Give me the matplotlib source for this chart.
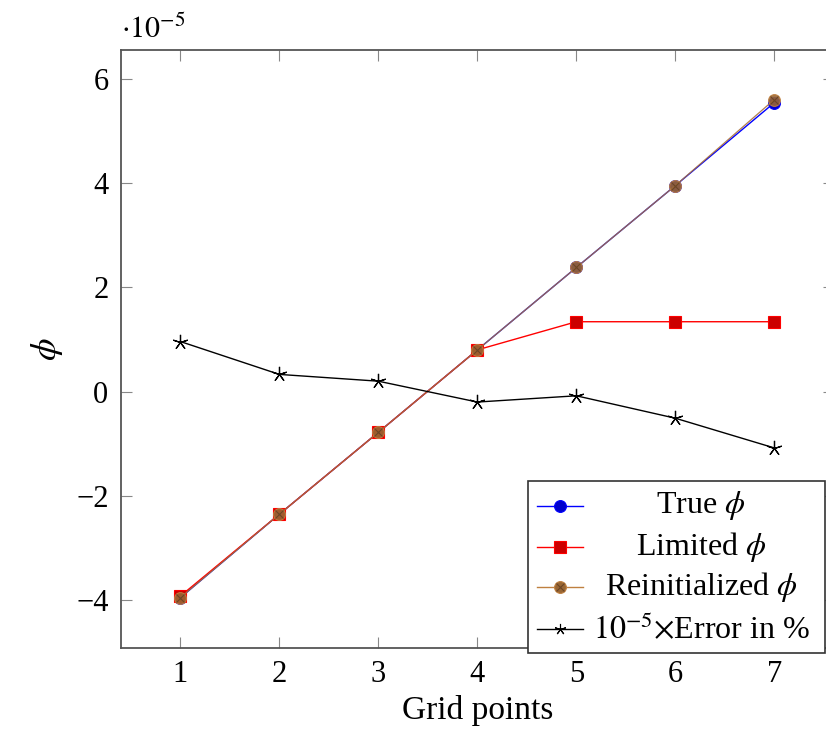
import matplotlib
matplotlib.use('Agg')
from matplotlib import pyplot as plt
from matplotlib.lines import Line2D
from matplotlib.patches import Rectangle

plt.rcParams['font.family'] = ['Liberation Serif', 'DejaVu Serif']
plt.rcParams['mathtext.fontset'] = 'stix'

# values in units of 1e-5
grid = [1, 2, 3, 4, 5, 6, 7]
phi_true = [-3.95, -2.35, -0.78, 0.80, 2.38, 3.95, 5.54]
phi_limited = [-3.92, -2.35, -0.78, 0.80, 1.34, 1.34, 1.34]
phi_reinit = [-3.95, -2.35, -0.78, 0.80, 2.38, 3.95, 5.60]
error_pct = [0.96, 0.33, 0.20, -0.20, -0.08, -0.51, -1.08]

labels = [r'True $\phi$', r'Limited $\phi$', r'Reinitialized $\phi$',
          r'$10^{-5}$$\times$Error in %']

W, H = 826, 729
fig = plt.figure(figsize=(W / 100, H / 100), dpi=100)
ax = fig.add_axes([121 / W, 1 - 647.7 / H, (833.7 - 121) / W, (647.7 - 50) / H])

lw = 1.0
ax.plot(grid, phi_true, color='#0000ff', lw=lw, marker='o', ms=8.5,
        mfc='#0000cc', mec='#0000ff', mew=0.8)
ax.plot(grid, phi_limited, color='#ff0000', lw=lw, marker='s', ms=8.5,
        mfc='#cc0000', mec='#ff0000', mew=0.8)
ax.plot(grid, phi_reinit, color='#a8703a', lw=0.9, marker='o', ms=8.5,
        mfc='#996633', mec='#bf8040', mew=0.8, alpha=0.9)
# cross inside the circles (otimes mark)
ax.plot(grid, phi_reinit, ls='none', marker='x', ms=5.5, mec='#6b4526', mew=0.8)
ax.plot(grid, error_pct, color='black', lw=lw, marker=(5, 2, 0), ms=11, mew=0.9)

ax.set_xlim(0.4, 7.6)
ax.set_ylim(-4.91, 6.55)
ax.set_xticks(grid)
ax.set_yticks([-4, -2, 0, 2, 4, 6])
ax.set_yticklabels(['\u22124', '\u22122', '0', '2', '4', '6'])

for s in ax.spines.values():
    s.set_color('#555555')
    s.set_linewidth(1.3)
ax.tick_params(direction='in', length=8, width=0.8, color='#888888',
               top=True, right=True, labelsize=22, pad=9)

ax.set_xlabel('Grid points', fontsize=24, labelpad=4)
ax.set_ylabel(r'$\phi$', fontsize=26, labelpad=8)
ax.text(0, 1.01, r'$\cdot10^{-5}$', transform=ax.transAxes, fontsize=21.5,
        ha='left', va='bottom')

# legend box, laid out in pixels
def px(x, y):
    return x / W, 1 - y / H

x0, y0 = px(528, 653)
x1, y1 = px(825, 481)
fig.add_artist(Rectangle((x0, y0), x1 - x0, y1 - y0, transform=fig.transFigure,
                         facecolor='white', edgecolor='#333333', lw=1.2, zorder=5))
rows = [506, 547, 587, 629]
styles = [
    dict(color='#0000ff', marker='o', ms=8.5, mfc='#0000cc', mec='#0000ff'),
    dict(color='#ff0000', marker='s', ms=8.5, mfc='#cc0000', mec='#ff0000'),
    dict(color='#bf8040', marker='o', ms=8.5, mfc='#996633', mec='#bf8040'),
    dict(color='black', marker=(5, 2, 0), ms=8, mfc='black', mec='black'),
]
for yrow, st, lab in zip(rows, styles, labels):
    xa, ya = px(537, yrow)
    xb, _ = px(583, yrow)
    xm, _ = px(560, yrow)
    fig.add_artist(Line2D([xa, xb], [ya, ya], transform=fig.transFigure,
                          color=st['color'], lw=lw, zorder=6))
    fig.add_artist(Line2D([xm], [ya], transform=fig.transFigure, ls='none',
                          marker=st['marker'], ms=st['ms'], mfc=st['mfc'],
                          mec=st['mec'], mew=0.8, zorder=7))
    xt, _ = px(701, yrow)
    fig.text(xt, ya, lab, ha='center', va='center', fontsize=23, zorder=8)
# cross for the reinitialized legend mark
xm, ym = px(560, rows[2])
fig.add_artist(Line2D([xm], [ym], transform=fig.transFigure, ls='none', marker='x',
                      ms=5.5, mec='#6b4526', mew=0.8, zorder=8))

fig.savefig('out.png', dpi=100)
